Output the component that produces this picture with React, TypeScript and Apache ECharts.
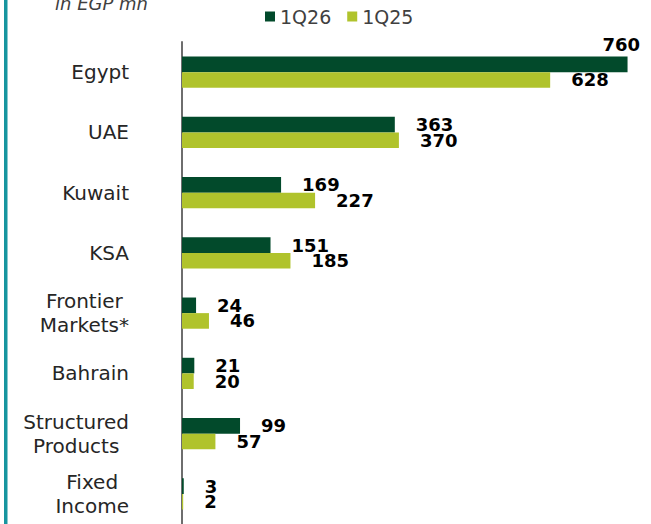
import React, { useEffect, useRef } from "react";
import * as echarts from "echarts";

const categories = ["Egypt", "UAE", "Kuwait", "KSA", "Frontier\nMarkets*", "Bahrain", "Structured\nProducts", "Fixed\nIncome"];
const q26Values = [760, 363, 169, 151, 24, 21, 99, 3];
const q25Values = [628, 370, 227, 185, 46, 20, 57, 2];
const seriesNames = ["1Q26", "1Q25"];
const unitTitle = "in EGP mn";

const DARK = "#024a2b";
const LIGHT = "#b0c32c";
const FONT = "DejaVu Sans";

export default function App() {
  const ref = useRef<HTMLDivElement>(null);
  useEffect(() => {
    if (!ref.current) return;
    const chart = echarts.init(ref.current, undefined, { renderer: "svg" });
    const labelBase = {
      show: true,
      position: "right",
      distance: 21,
      fontFamily: FONT,
      fontWeight: "bold",
      fontSize: 18,
      color: "#000000",
    };
    const q26Data = q26Values.map((v, i) =>
      i === 0 ? { value: v, label: { offset: [-46, -20] } } : v
    );
    chart.setOption({
      animation: false,
      backgroundColor: "#ffffff",
      graphic: [
        {
          type: "rect",
          shape: { x: 4, y: 0, width: 3.5, height: 524 },
          style: { fill: "#17959f" },
          silent: true,
        },
        {
          type: "text",
          x: 55,
          y: 3,
          style: {
            text: unitTitle,
            fontSize: 18,
            fontFamily: FONT,
            fontStyle: "italic",
            fill: "#404040",
            align: "left",
            verticalAlign: "middle",
          },
          silent: true,
        },
      ],
      legend: {
        data: seriesNames,
        left: 265,
        top: 7,
        padding: 0,
        itemWidth: 10,
        itemHeight: 10,
        itemGap: 16,
        icon: "rect",
        textStyle: { fontFamily: FONT, fontSize: 19, color: "#404040", padding: [0, 0, 0, 0] },
      },
      grid: { left: 182, right: 0, top: 42, height: 485, containLabel: false },
      xAxis: { type: "value", min: 0, max: 800, show: false },
      yAxis: {
        type: "category",
        data: categories,
        inverse: true,
        offset: 1,
        axisLine: { show: true, lineStyle: { color: "#6e6e6e", width: 2 } },
        axisTick: { show: false },
        splitLine: { show: false },
        axisLabel: {
          margin: 52,
          align: "right",
          formatter: (v: string) => v.split("\n").map((s) => `{c|${s}}`).join("\n"),
          rich: {
            c: {
              fontFamily: FONT,
              fontSize: 20,
              color: "#262626",
              lineHeight: 24,
              align: "center",
            },
          },
        },
      },
      series: [
        {
          name: seriesNames[0],
          type: "bar",
          data: q26Data,
          barWidth: 15.6,
          barGap: "0%",
          itemStyle: { color: DARK },
          label: labelBase,
        },
        {
          name: seriesNames[1],
          type: "bar",
          data: q25Values,
          barWidth: 15.6,
          barGap: "0%",
          itemStyle: { color: LIGHT },
          label: labelBase,
        },
      ],
    });
    return () => chart.dispose();
  }, []);
  return (
    <div
      ref={ref}
      style={{ position: "fixed", left: 0, top: 0, width: 651, height: 524, background: "#fff" }}
    />
  );
}
